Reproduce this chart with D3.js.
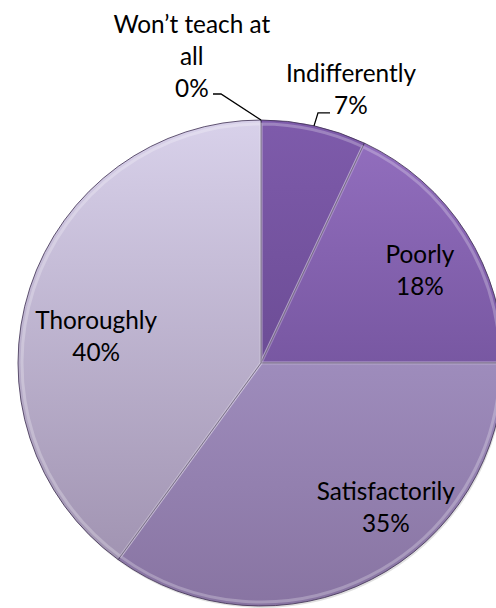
<!DOCTYPE html>
<html><head><meta charset="utf-8">
<script src="https://cdn.jsdelivr.net/npm/d3@7"></script>
<style>html,body{margin:0;padding:0;background:#fff;}svg{display:block;}</style>
</head><body>
<svg id="chart" width="496" height="608"></svg>
<script>
// ---- data ----
const categories = ["Won\u2019t teach at all", "Indifferently", "Poorly", "Satisfactorily", "Thoroughly"];
const labelLines = [["Won\u2019t teach at", "all"], ["Indifferently"], ["Poorly"], ["Satisfactorily"], ["Thoroughly"]];
const values = [0, 7, 18, 35, 40];
const percentLabels = ["0%", "7%", "18%", "35%", "40%"];

// ---- styling / layout ----
const W = 496, H = 608;
const cx = 261, cy = 363, R = 243;
const topColors = ["#7e5bab", "#7e5bab", "#9470c0", "#b4a4d6", "#d8d1ea"];
const botColors = ["#5a3e80", "#5a3e80", "#5c3f84", "#8874a2", "#9b8dac"];
// label placement: [angle in degrees clockwise from top, radius as fraction of R]
const labelPolar = [[-12.7, 1.295], [18.2, 1.185], [59.8, 0.757], [139.2, 0.786], [279.1, 0.687]];

const svg = d3.select("#chart");
const defs = svg.append("defs");
categories.forEach((c, i) => {
  const gr = defs.append("linearGradient").attr("id", "grad" + i)
    .attr("gradientUnits", "userSpaceOnUse")
    .attr("x1", 0).attr("x2", 0).attr("y1", -R).attr("y2", R);
  gr.append("stop").attr("offset", 0).attr("stop-color", topColors[i]);
  gr.append("stop").attr("offset", 1).attr("stop-color", botColors[i]);
});

const pie = d3.pie().sort(null).value(d => d)(values);
const arc = d3.arc().innerRadius(0).outerRadius(R);
const arcInner = d3.arc().innerRadius(0).outerRadius(R - 4);

const g = svg.append("g").attr("transform", `translate(${cx},${cy})`);
// soft shadow
g.append("circle").attr("r", R).attr("cx", 1).attr("cy", 2).attr("fill", "rgba(0,0,0,0.12)");

const slices = g.selectAll("g.slice").data(pie).enter().append("g").attr("class", "slice");
slices.append("path").attr("d", arc)
  .attr("fill", (d, i) => `url(#grad${i})`)
  .attr("stroke", "rgba(60,45,80,0.8)").attr("stroke-width", 1);
// bevel highlight
slices.append("path").attr("d", arcInner)
  .attr("fill", "none")
  .attr("stroke", "rgba(255,255,255,0.25)").attr("stroke-width", 3)
  .attr("stroke-linejoin", "round");

// ---- labels ----
const fontFamily = "Lato, 'Open Sans', sans-serif";
const probe = svg.append("text").attr("font-family", fontFamily).attr("font-size", 24).text("Thoroughly");
const w24 = probe.node().getComputedTextLength();
probe.remove();
const fs = Math.max(18, Math.min(26, 24 * 122 / w24));
const lineH = 32;

function polar(angDeg, rf) {
  const a = angDeg * Math.PI / 180;
  return [R * rf * Math.sin(a), -R * rf * Math.cos(a)];
}

categories.forEach((c, i) => {
  const lines = labelLines[i].concat([percentLabels[i]]);
  const [x, y] = polar(labelPolar[i][0], labelPolar[i][1]);
  const n = lines.length;
  const t = g.append("text").attr("font-family", fontFamily).attr("font-size", fs)
    .attr("fill", "#000").attr("text-anchor", "middle");
  lines.forEach((ln, k) => {
    t.append("tspan").attr("x", x).attr("y", y + (k - (n - 1) / 2) * lineH + fs * 0.35).text(ln);
  });
});

// leader lines for the outside labels
function leader(i, elbowDx, elbowDy, endDx) {
  const d = pie[i];
  const mid = (d.startAngle + d.endAngle) / 2;
  const p0 = [R * Math.sin(mid), -R * Math.cos(mid)];
  const p1 = [p0[0] + elbowDx, p0[1] + elbowDy];
  const p2 = [p1[0] + endDx, p1[1]];
  g.append("path").attr("d", d3.line()([p0, p1, p2]))
    .attr("fill", "none").attr("stroke", "#000").attr("stroke-width", 1.3);
}
leader(0, -40, -26, -8);
leader(1, 4, -13, 12);
</script>
</body></html>
